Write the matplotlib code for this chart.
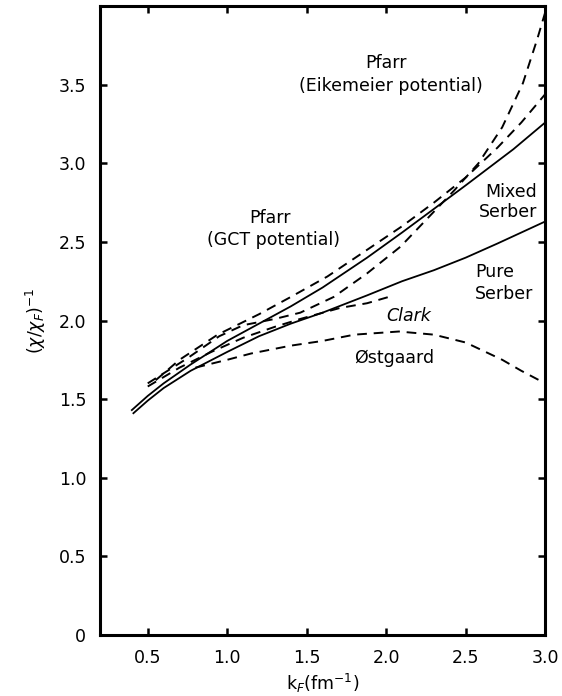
import matplotlib.pyplot as plt

# curve values
mixed_x = [0.40, 0.5, 0.6, 0.77, 1.0, 1.2, 1.4, 1.6, 1.88, 2.1, 2.3, 2.5, 2.8, 3.0]
mixed_y = [1.43, 1.52, 1.60, 1.72, 1.87, 1.98, 2.09, 2.21, 2.40, 2.56, 2.71, 2.86, 3.09, 3.26]

pure_x = [0.41, 0.5, 0.6, 0.77, 1.0, 1.2, 1.4, 1.6, 1.88, 2.1, 2.3, 2.5, 2.7, 2.85, 3.0]
pure_y = [1.41, 1.49, 1.57, 1.68, 1.80, 1.90, 1.98, 2.05, 2.16, 2.25, 2.32, 2.40, 2.49, 2.56, 2.63]

gct_x = [0.55, 0.7, 0.94, 1.2, 1.4, 1.63, 1.88, 2.1, 2.3, 2.5, 2.7, 2.85, 3.0]
gct_y = [1.62, 1.75, 1.91, 2.04, 2.15, 2.28, 2.45, 2.60, 2.75, 2.91, 3.10, 3.26, 3.44]

eik_x = [0.5, 0.75, 0.95, 1.1, 1.3, 1.46, 1.67, 1.88, 2.09, 2.26, 2.43, 2.58, 2.73, 2.86, 2.95, 3.0]
eik_y = [1.60, 1.76, 1.90, 1.97, 2.01, 2.05, 2.15, 2.30, 2.47, 2.65, 2.83, 3.00, 3.23, 3.51, 3.79, 3.96]

clark_x = [0.5, 0.7, 0.9, 1.1, 1.3, 1.46, 1.71, 1.88, 2.05]
clark_y = [1.58, 1.70, 1.80, 1.89, 1.96, 2.01, 2.08, 2.11, 2.16]

ost_x = [0.8, 1.0, 1.15, 1.4, 1.6, 1.8, 2.08, 2.3, 2.5, 2.73, 2.85, 3.0]
ost_y = [1.70, 1.75, 1.79, 1.84, 1.87, 1.91, 1.93, 1.91, 1.86, 1.75, 1.68, 1.60]

xticks = [0.5, 1.0, 1.5, 2.0, 2.5, 3.0]
xtick_labels = ['0.5', '1.0', '1.5', '2.0', '2.5', '3.0']
yticks = [0, 0.5, 1.0, 1.5, 2.0, 2.5, 3.0, 3.5]
ytick_labels = ['0', '0.5', '1.0', '1.5', '2.0', '2.5', '3.0', '3.5']

fig = plt.figure(figsize=(5.62, 6.96), dpi=100)
ax = fig.add_axes([0.178, 0.088, 0.792, 0.903])

dash = (0, (5, 3.5))
ax.plot(mixed_x, mixed_y, color='black', lw=1.3)
ax.plot(pure_x, pure_y, color='black', lw=1.3)
ax.plot(gct_x, gct_y, color='black', lw=1.4, linestyle=dash)
ax.plot(eik_x, eik_y, color='black', lw=1.4, linestyle=dash)
ax.plot(clark_x, clark_y, color='black', lw=1.4, linestyle=dash)
ax.plot(ost_x, ost_y, color='black', lw=1.4, linestyle=dash)

ax.set_xlim(0.2, 3.0)
ax.set_ylim(0, 4.0)
ax.set_xticks(xticks)
ax.set_xticklabels(xtick_labels)
ax.set_yticks(yticks)
ax.set_yticklabels(ytick_labels)
ax.tick_params(direction='in', top=True, right=True, length=5, width=1.8,
               labelsize=12.5, pad=10)
for s in ax.spines.values():
    s.set_linewidth(2.2)

ax.set_xlabel(r'k$_F$(fm$^{-1}$)', fontsize=12.5, labelpad=4)
ax.set_ylabel(r'$(\chi/\chi_F)^{-1}$', fontsize=12.5, labelpad=8)

fs = 12.5
ax.text(2.0, 3.64, 'Pfarr', ha='center', va='center', fontsize=fs)
ax.text(2.03, 3.49, '(Eikemeier potential)', ha='center', va='center', fontsize=fs)
ax.text(1.27, 2.65, 'Pfarr', ha='center', va='center', fontsize=fs)
ax.text(1.29, 2.51, '(GCT potential)', ha='center', va='center', fontsize=fs)
ax.text(2.95, 2.82, 'Mixed', ha='right', va='center', fontsize=fs)
ax.text(2.95, 2.69, 'Serber', ha='right', va='center', fontsize=fs)
ax.text(2.56, 2.31, 'Pure', ha='left', va='center', fontsize=fs)
ax.text(2.56, 2.17, 'Serber', ha='left', va='center', fontsize=fs)
ax.text(2.14, 2.03, 'Clark', ha='center', va='center', fontsize=fs, style='italic')
ax.text(2.05, 1.76, 'Østgaard', ha='center', va='center', fontsize=fs)

fig.savefig('out.png', dpi=100)
